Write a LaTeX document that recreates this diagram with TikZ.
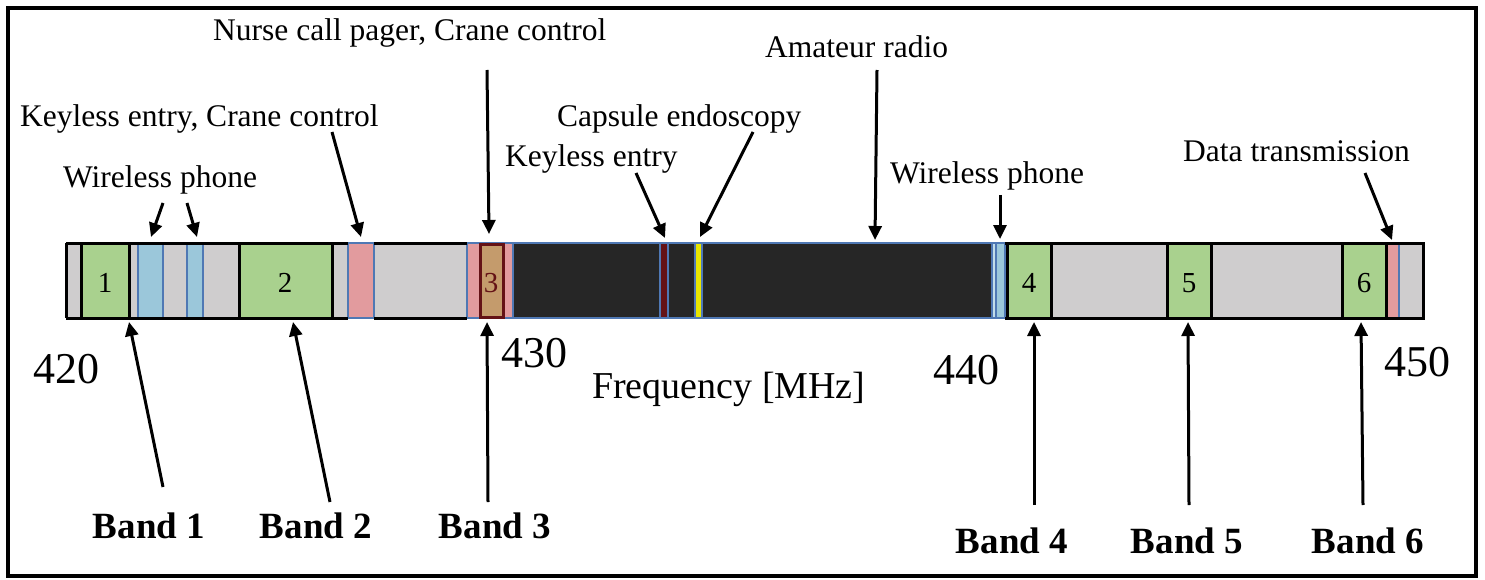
\documentclass[tikz,border=0pt]{standalone}
\usepackage{fontspec}
\setmainfont{Liberation Serif}
\usetikzlibrary{arrows.meta}
\definecolor{bargray}{RGB}{207,205,206}
\definecolor{bandgreen}{RGB}{169,209,142}
\definecolor{stripblue}{RGB}{155,199,218}
\definecolor{stripblueedge}{RGB}{79,120,180}
\definecolor{strippink}{RGB}{226,155,158}
\definecolor{bandbrown}{RGB}{196,155,108}
\definecolor{darkred}{RGB}{100,18,22}
\definecolor{amateur}{RGB}{38,38,38}
\definecolor{capsule}{RGB}{232,230,0}
\begin{document}
\begin{tikzpicture}[x=1pt,y=-1pt,
  lbl/.style={anchor=base west,inner sep=0pt,font=\fontsize{31.5}{36}\selectfont},
  bandlbl/.style={anchor=base,inner sep=0pt,font=\fontsize{37}{42}\selectfont\bfseries},
  freq/.style={anchor=base,inner sep=0pt,font=\fontsize{44}{50}\selectfont},
  boxnum/.style={anchor=center,inner sep=0pt,font=\fontsize{29}{33}\selectfont},
  pointer/.style={line width=3pt,-{Triangle[length=14pt,width=13pt]}},
  greenbox/.style={fill=bandgreen,draw=black,line width=3pt},
  strip/.style={draw=stripblueedge,line width=1.3pt}
]
\useasboundingbox (0,0) rectangle (1485,580);
\fill[white] (0,0) rectangle (1485,580);
% frame
\draw[line width=3.5pt] (8,8) rectangle (1476,576);

% bar background
\fill[bargray] (66,243) rectangle (1423,318);
% coloured strips
\draw[strip,fill=stripblue] (138,243) rectangle (163,318);
\draw[strip,fill=stripblue] (187,243) rectangle (203,318);
\draw[strip,fill=strippink] (348,243) rectangle (374,318);
\draw[strip,fill=strippink] (467,243) rectangle (513,318);
\draw[fill=bandbrown,draw=darkred,line width=3pt] (480,244) rectangle (503,317);
\draw[strip,fill=amateur] (513,243) rectangle (992,318);
\draw[strip,fill=darkred] (660,243) rectangle (668,318);
\draw[strip,fill=capsule] (695,243) rectangle (702,318);
\draw[strip,fill=stripblue!60] (992,243) rectangle (1005,318);
\draw[strip,fill=stripblue] (996,243) rectangle (1005,318);
\draw[strip,fill=strippink] (1387,243) rectangle (1399,318);
% green bands
\draw[greenbox] (81,243) rectangle (129,318);
\draw[greenbox] (239,243) rectangle (332,318);
\draw[greenbox] (1007,243) rectangle (1051,318);
\draw[greenbox] (1167,243) rectangle (1211,318);
\draw[greenbox] (1342,243) rectangle (1386,318);
% outer bar border (grey/black parts)
\draw[line width=3pt] (66,243) -- (348,243);
\draw[line width=3pt] (374,243) -- (467,243);
\draw[line width=3pt] (66,318) -- (348,318);
\draw[line width=3pt] (374,318) -- (467,318);
\draw[line width=3pt] (1005,243) -- (1423,243) -- (1423,318) -- (1005,318);
\draw[line width=3pt] (66,243) -- (66,318);

% numbers in boxes
\node[boxnum] (n1) at (105,283) {1};
\node[boxnum] (n2) at (285,283) {2};
\node[boxnum,text=darkred] (n3) at (491,283) {3};
\node[boxnum] (n4) at (1029,283) {4};
\node[boxnum] (n5) at (1189,283) {5};
\node[boxnum] (n6) at (1364,283) {6};

% axis labels
\node[freq] (f420) at (66,383) {420};
\node[freq] (f430) at (534,367) {430};
\node[freq] (f440) at (966,384) {440};
\node[freq] (f450) at (1417,376) {450};
\node[anchor=base west,inner sep=0pt,font=\fontsize{38}{44}\selectfont] (fq) at (592,398) {Frequency [MHz]};

% top labels
\node[lbl] (nurse) at (213,41) {Nurse call pager, Crane control};
\node[lbl] (amat) at (765,58) {Amateur radio};
\node[lbl] (kecc) at (20,127) {Keyless entry, Crane control};
\node[lbl] (caps) at (557,127) {Capsule endoscopy};
\node[lbl] (keyl) at (505,167) {Keyless entry};
\node[lbl] (wpl) at (63,188) {Wireless phone};
\node[lbl] (wpr) at (890,184) {Wireless phone};
\node[lbl] (data) at (1183,162) {Data transmission};

% bottom labels
\node[bandlbl] (b1) at (149,538) {Band 1};
\node[bandlbl] (b2) at (316,538) {Band 2};
\node[bandlbl] (b3) at (495,538) {Band 3};
\node[bandlbl] (b4) at (1012,553) {Band 4};
\node[bandlbl] (b5) at (1187,553) {Band 5};
\node[bandlbl] (b6) at (1368,553) {Band 6};

% arrow coordinates
\coordinate (wl1s) at (163,203); \coordinate (wl1e) at (151,237);
\coordinate (wl2s) at (187,203); \coordinate (wl2e) at (197,237);
\coordinate (kcs) at (332,132); \coordinate (kce) at (361,237);
\coordinate (ns) at (487,70); \coordinate (ne) at (489,234);
\coordinate (kes) at (636,173); \coordinate (kee) at (665,238);
\coordinate (cs) at (753,132); \coordinate (ce) at (700,237);
\coordinate (as) at (877,70); \coordinate (ae) at (875,240);
\coordinate (wrs) at (1000,195); \coordinate (wre) at (1000,239);
\coordinate (ds) at (1365,173); \coordinate (de) at (1392,240);
\coordinate (b1s) at (163,487); \coordinate (b1e) at (129,322);
\coordinate (b2s) at (330,502); \coordinate (b2e) at (293,322);
\coordinate (b3s) at (488,502); \coordinate (b3e) at (487,322);
\coordinate (b4s) at (1034,505); \coordinate (b4e) at (1034,322);
\coordinate (b5s) at (1189,505); \coordinate (b5e) at (1188,322);
\coordinate (b6s) at (1363,505); \coordinate (b6e) at (1361,322);

\foreach \a/\b in {wl1s/wl1e,wl2s/wl2e,kcs/kce,ns/ne,kes/kee,cs/ce,as/ae,wrs/wre,ds/de,b1s/b1e,b2s/b2e,b3s/b3e,b4s/b4e,b5s/b5e,b6s/b6e}
  \draw[pointer] (\a) -- (\b);
\end{tikzpicture}
\end{document}
